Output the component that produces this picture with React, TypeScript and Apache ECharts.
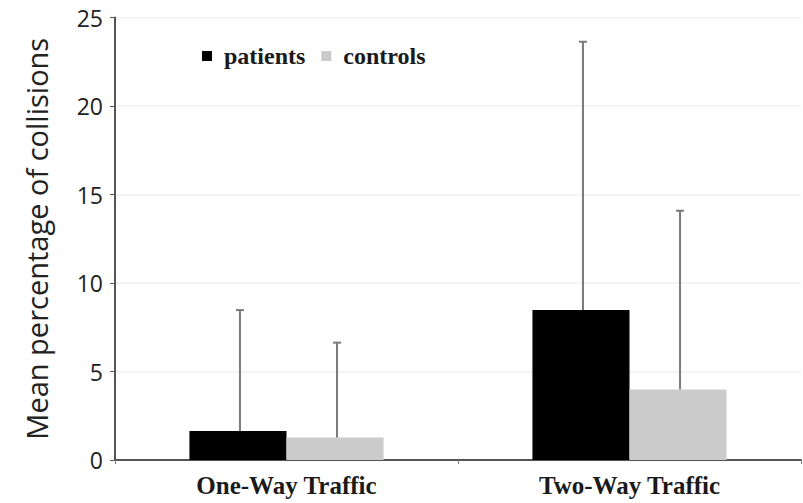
import React, { useEffect, useRef } from "react";
import * as echarts from "echarts";

const categories = ["One-Way Traffic", "Two-Way Traffic"];
const seriesNames = ["patients", "controls"];
const patientsMean = [1.64, 8.47];
const controlsMean = [1.27, 3.99];
const patientsUpper = [8.47, 23.63];
const controlsUpper = [6.63, 14.08];
const yTicks = { min: 0, max: 25, interval: 5 };

const BAR_FRAC = 0.283;

export default function App() {
  const ref = useRef<HTMLDivElement>(null);
  useEffect(() => {
    if (!ref.current) return;
    const chart = echarts.init(ref.current, undefined, { renderer: "svg" });
    const errData: number[][] = [];
    categories.forEach((_, i) => {
      errData.push([i, patientsMean[i], patientsUpper[i], -1]);
      errData.push([i, controlsMean[i], controlsUpper[i], 1]);
    });
    const option = {
      animation: false,
      backgroundColor: "#ffffff",
      grid: { left: 115, right: 2, top: 17.5, bottom: 43, containLabel: false },
      legend: {
        data: seriesNames,
        left: 197,
        top: 39,
        icon: "rect",
        itemWidth: 10,
        itemHeight: 10,
        itemGap: 16,
        textStyle: {
          fontFamily: "Liberation Serif",
          fontWeight: "bold",
          fontSize: 24,
          color: "#1a1a1a",
          padding: [0, 0, 0, 7],
        },
      },
      xAxis: {
        type: "category",
        data: categories,
        axisLine: { lineStyle: { color: "#555", width: 2 } },
        axisTick: { show: true, length: 4, lineStyle: { color: "#777" } },
        axisLabel: {
          fontFamily: "Liberation Serif",
          fontWeight: "bold",
          fontSize: 25,
          color: "#1a1a1a",
          margin: 13,
        },
        splitLine: { show: false },
      },
      yAxis: {
        type: "value",
        min: yTicks.min,
        max: yTicks.max,
        interval: yTicks.interval,
        name: "Mean percentage of collisions",
        nameLocation: "middle",
        nameGap: 64,
        nameTextStyle: { fontFamily: "Open Sans", fontSize: 29, color: "#222" },
        axisLine: { show: true, lineStyle: { color: "#555", width: 2 } },
        axisTick: { show: true, length: 5, lineStyle: { color: "#555", width: 1 } },
        axisLabel: { fontFamily: "Open Sans", fontSize: 23, color: "#222", margin: 12 },
        splitLine: { show: true, lineStyle: { color: "#efefef", width: 1.5 } },
      },
      series: [
        {
          name: seriesNames[0],
          type: "bar",
          data: patientsMean,
          barWidth: (BAR_FRAC * 100).toFixed(1) + "%",
          barGap: "0%",
          itemStyle: { color: "#000000" },
        },
        {
          name: seriesNames[1],
          type: "bar",
          data: controlsMean,
          barWidth: (BAR_FRAC * 100).toFixed(1) + "%",
          barGap: "0%",
          itemStyle: { color: "#cbcbcb" },
        },
        {
          type: "custom",
          z: 10,
          data: errData,
          encode: { x: 0, y: [1, 2] },
          renderItem: (params: any, api: any) => {
            const cat = api.value(0);
            const lo = api.value(1);
            const hi = api.value(2);
            const side = api.value(3);
            const bandW = api.size([1, 0])[0];
            const barW = bandW * BAR_FRAC;
            const pLo = api.coord([cat, lo]);
            const pHi = api.coord([cat, hi]);
            const x = pLo[0] + (side * barW) / 2 + 2;
            const style = { stroke: "#7a7a7a", lineWidth: 2 };
            return {
              type: "group",
              children: [
                { type: "line", shape: { x1: x, y1: pLo[1], x2: x, y2: pHi[1] }, style },
                { type: "line", shape: { x1: x - 4, y1: pHi[1], x2: x + 4, y2: pHi[1] }, style },
              ],
            };
          },
        },
      ],
    };
    chart.setOption(option as any);
    return () => chart.dispose();
  }, []);
  return (
    <div
      ref={ref}
      style={{ position: "fixed", left: 0, top: 0, width: 803, height: 503, background: "#fff" }}
    />
  );
}
